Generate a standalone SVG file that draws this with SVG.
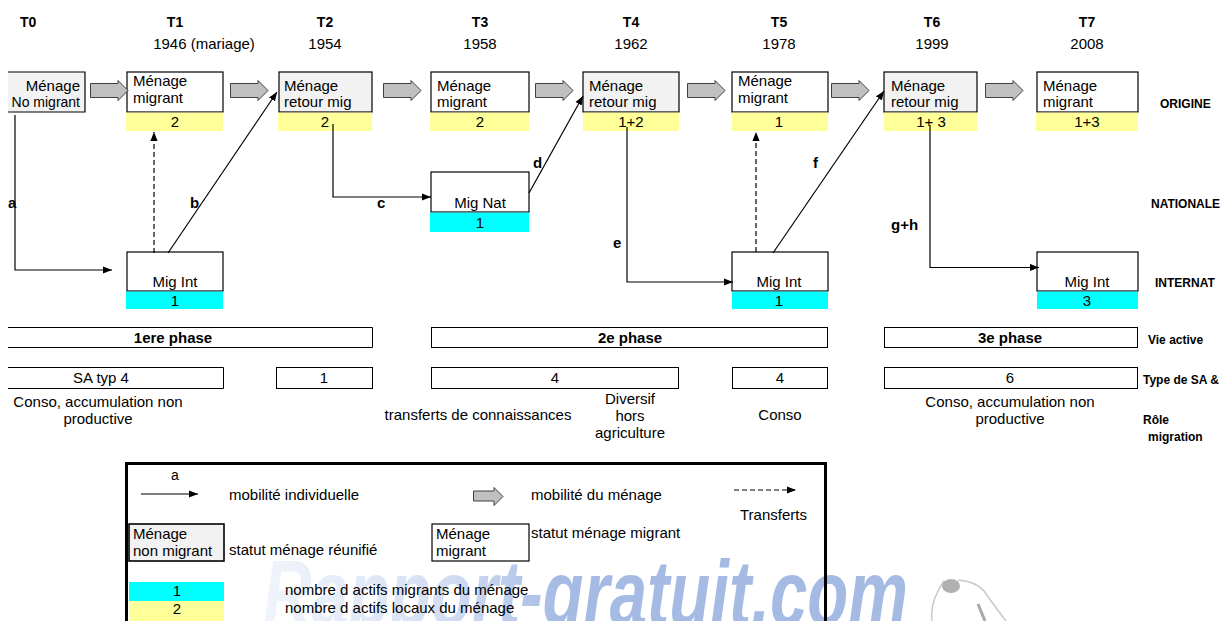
<svg xmlns="http://www.w3.org/2000/svg" width="1222" height="621" viewBox="0 0 1222 621">
  <style>
    .t{font-family:"Liberation Sans",Arial,sans-serif;font-size:15px;fill:#000}
    .b{font-weight:bold}
    .m{text-anchor:middle}
    .e{text-anchor:end}
    .s14{font-size:14px}
    .s12{font-size:12px}
    .box{fill:#fff;stroke:#000;stroke-width:1.2}
    .gbox{fill:#f2f2f2;stroke:#000;stroke-width:1.2}
    .yel{fill:#ffff99}
    .cy{fill:#00ffff}
    .ln{fill:none;stroke:#000;stroke-width:1.2}
    .dash{stroke-dasharray:5 3}
    .frame{fill:none;stroke:#000;stroke-width:1}
    .blk{fill:#c0c0c0;stroke:#404040;stroke-width:1}
  </style>
  <defs>
    <marker id="ah" viewBox="0 0 10 8" refX="10" refY="4" markerWidth="9" markerHeight="8" markerUnits="userSpaceOnUse" orient="auto">
      <path d="M0,0 L10,4 L0,8 Z" fill="#000"/>
    </marker>
    <symbol id="blkArrow" overflow="visible">
      <path class="blk" d="M0.5,3.5 H28 V0.5 L38,10.5 L28,20.5 V17.5 H0.5 Z"/>
    </symbol>
    <symbol id="blkArrowSmall" overflow="visible">
      <path class="blk" d="M0.5,4 H21 V0.5 L30,9.5 L21,18.5 V14 H0.5 Z"/>
    </symbol>
    <linearGradient id="wmFill" gradientUnits="userSpaceOnUse" x1="263" y1="0" x2="560" y2="0">
      <stop offset="0" stop-color="#c3d2f0" stop-opacity="0.25"/>
      <stop offset="0.6" stop-color="#9fb6e4" stop-opacity="0.45"/>
      <stop offset="1" stop-color="#7f9dd8" stop-opacity="0.7"/>
    </linearGradient>
  </defs>

  <rect width="1222" height="621" fill="#fff"/>

  <!-- watermark (behind the legend) -->
  <g id="watermark">
    <text x="263" y="625" textLength="645" lengthAdjust="spacingAndGlyphs" font-family="'Liberation Sans',Arial,sans-serif" font-size="92" font-style="italic" font-weight="bold" fill="url(#wmFill)">Rapport-gratuit.com</text>
    <path d="M932,621 C930,606 937,591 944,581" fill="none" stroke="#c8c8c8" stroke-width="1.5"/>
    <ellipse cx="951" cy="586" rx="9" ry="7" fill="#b0b0b0"/>
    <path d="M958,580 C970,581 979,585 984,591 C991,601 999,612 1006,621" fill="none" stroke="#c8c8c8" stroke-width="1.5"/>
    <path d="M978,604 L985,621" fill="none" stroke="#a8a8a8" stroke-width="3"/>
  </g>

  <!-- time axis -->
  <g id="timeline">
    <text class="t b s14" x="20" y="27">T0</text>
    <text class="t b s14 m" x="175" y="27">T1</text>
    <text class="t m" x="204" y="49">1946 (mariage)</text>
    <text class="t b s14 m" x="325" y="27">T2</text>
    <text class="t m" x="325" y="49">1954</text>
    <text class="t b s14 m" x="480" y="27">T3</text>
    <text class="t m" x="480" y="49">1958</text>
    <text class="t b s14 m" x="631" y="27">T4</text>
    <text class="t m" x="631" y="49">1962</text>
    <text class="t b s14 m" x="779" y="27">T5</text>
    <text class="t m" x="779" y="49">1978</text>
    <text class="t b s14 m" x="932" y="27">T6</text>
    <text class="t m" x="932" y="49">1999</text>
    <text class="t b s14 m" x="1087" y="27">T7</text>
    <text class="t m" x="1087" y="49">2008</text>
  </g>

  <!-- row labels -->
  <g id="row-labels">
    <text class="t b s12" x="1160" y="108">ORIGINE</text>
    <text class="t b s12" x="1151" y="208">NATIONALE</text>
    <text class="t b s12" x="1155" y="287">INTERNAT</text>
    <text class="t b s12" x="1148" y="344">Vie active</text>
    <text class="t b s12" x="1143" y="384">Type de SA &amp;</text>
    <text class="t b s12" x="1143" y="424">Rôle</text>
    <text class="t b s12" x="1148" y="441">migration</text>
  </g>

  <!-- household nodes at origin -->
  <g id="n-t0">
    <rect x="8" y="72" width="77" height="40" fill="#f2f2f2"/>
    <path class="ln" d="M8,72 H85 V112 H8"/>
    <text class="t e" x="80" y="91">Ménage</text>
    <text class="t e s14" x="80" y="107">No migrant</text>
  </g>
  <g id="n-t1">
    <rect class="box" x="127" y="72" width="96" height="40"/>
    <rect class="yel" x="126" y="112.6" width="97" height="18.4"/>
    <text class="t" x="133" y="86">Ménage</text>
    <text class="t" x="133" y="103">migrant</text>
    <text class="t m" x="175" y="127">2</text>
  </g>
  <g id="n-t2">
    <rect class="gbox" x="279" y="72" width="93" height="40"/>
    <rect class="yel" x="278" y="112.6" width="94" height="18.4"/>
    <text class="t" x="284" y="91">Ménage</text>
    <text class="t" x="284" y="107">retour mig</text>
    <text class="t m" x="325" y="127">2</text>
  </g>
  <g id="n-t3">
    <rect class="box" x="431" y="72" width="98" height="40"/>
    <rect class="yel" x="430" y="112.6" width="99" height="18.4"/>
    <text class="t" x="437" y="91">Ménage</text>
    <text class="t" x="437" y="107">migrant</text>
    <text class="t m" x="480" y="127">2</text>
  </g>
  <g id="n-t4">
    <rect class="gbox" x="583" y="72" width="96" height="40"/>
    <rect class="yel" x="583" y="112.6" width="96" height="18.4"/>
    <text class="t" x="589" y="91">Ménage</text>
    <text class="t" x="589" y="107">retour mig</text>
    <text class="t m" x="631" y="127">1+2</text>
  </g>
  <g id="n-t5">
    <rect class="box" x="732" y="72" width="96" height="40"/>
    <rect class="yel" x="732" y="112.6" width="96" height="18.4"/>
    <text class="t" x="738" y="86">Ménage</text>
    <text class="t" x="738" y="103">migrant</text>
    <text class="t m" x="779" y="127">1</text>
  </g>
  <g id="n-t6">
    <rect class="gbox" x="884" y="72" width="93" height="40"/>
    <rect class="yel" x="884" y="112.6" width="93" height="18.4"/>
    <text class="t" x="891" y="91">Ménage</text>
    <text class="t" x="891" y="107">retour mig</text>
    <text class="t m" x="931" y="127" xml:space="preserve">1+ 3</text>
  </g>
  <g id="n-t7">
    <rect class="box" x="1037" y="72" width="101" height="40"/>
    <rect class="yel" x="1036" y="112.6" width="102" height="18.4"/>
    <text class="t" x="1043" y="91">Ménage</text>
    <text class="t" x="1043" y="107">migrant</text>
    <text class="t m" x="1087" y="127">1+3</text>
  </g>

  <!-- migrant nodes -->
  <g id="n-migint-t1">
    <rect class="box" x="127" y="252" width="96" height="39"/>
    <rect class="cy" x="126" y="291.6" width="97" height="17.4"/>
    <text class="t m" x="175" y="287">Mig Int</text>
    <text class="t m" x="175" y="306">1</text>
  </g>
  <g id="n-mignat-t3">
    <rect class="box" x="431" y="172" width="98" height="40"/>
    <rect class="cy" x="430" y="212.6" width="99" height="19.4"/>
    <text class="t m" x="480" y="208">Mig Nat</text>
    <text class="t m" x="480" y="228">1</text>
  </g>
  <g id="n-migint-t5">
    <rect class="box" x="732" y="252" width="96" height="39"/>
    <rect class="cy" x="732" y="291.6" width="96" height="17.4"/>
    <text class="t m" x="779" y="287">Mig Int</text>
    <text class="t m" x="779" y="306">1</text>
  </g>
  <g id="n-migint-t7">
    <rect class="box" x="1037" y="252" width="101" height="39"/>
    <rect class="cy" x="1037" y="291.6" width="101" height="17.4"/>
    <text class="t m" x="1087" y="287">Mig Int</text>
    <text class="t m" x="1087" y="306">3</text>
  </g>

  <!-- connectors -->
  <g id="connectors">
    <!-- household mobility -->
    <use href="#blkArrow" x="90" y="80"/>
    <use href="#blkArrow" x="230" y="80"/>
    <use href="#blkArrow" x="383" y="80"/>
    <use href="#blkArrow" x="535" y="80"/>
    <use href="#blkArrow" x="687" y="80"/>
    <use href="#blkArrow" x="831" y="80"/>
    <use href="#blkArrow" x="985" y="80"/>

    <!-- individual mobility -->
    <path class="ln" d="M15,115 V270 H112" marker-end="url(#ah)"/>
    <path class="ln" d="M168,253 L277,92" marker-end="url(#ah)"/>
    <path class="ln" d="M333,124 V197 H431" marker-end="url(#ah)"/>
    <path class="ln" d="M529,193 L583,96" marker-end="url(#ah)"/>
    <path class="ln" d="M627,127 V282 H733" marker-end="url(#ah)"/>
    <path class="ln" d="M773,253 L884,91" marker-end="url(#ah)"/>
    <path class="ln" d="M930,125 V267.5 H1039" marker-end="url(#ah)"/>

    <!-- transfers -->
    <path class="ln dash" d="M154,253 V132" marker-end="url(#ah)"/>
    <path class="ln dash" d="M756,252 V132" marker-end="url(#ah)"/>

    <text class="t b" x="8" y="208">a</text>
    <text class="t b" x="190" y="208">b</text>
    <text class="t b" x="377" y="208">c</text>
    <text class="t b" x="533" y="168">d</text>
    <text class="t b" x="613" y="248">e</text>
    <text class="t b" x="813" y="168">f</text>
    <text class="t b" x="891" y="230">g+h</text>
  </g>

  <!-- phases of active life -->
  <g id="phases">
    <path class="frame" d="M8,327.5 H372.5 V347.5 H8"/>
    <text class="t b m" x="173" y="343">1ere phase</text>
    <rect class="frame" x="431.5" y="327.5" width="396" height="20"/>
    <text class="t b m" x="630" y="343">2e phase</text>
    <rect class="frame" x="884.5" y="327.5" width="253" height="20"/>
    <text class="t b m" x="1010" y="343">3e phase</text>
  </g>

  <!-- production system types -->
  <g id="sa-types">
    <path class="frame" d="M8,367.5 H223.5 V388.5 H8"/>
    <text class="t m" x="101" y="383">SA typ 4</text>
    <rect class="frame" x="276.5" y="367.5" width="96" height="21"/>
    <text class="t m" x="324" y="383">1</text>
    <rect class="frame" x="431.5" y="367.5" width="247" height="21"/>
    <text class="t m" x="555" y="383">4</text>
    <rect class="frame" x="732.5" y="367.5" width="95" height="21"/>
    <text class="t m" x="780" y="383">4</text>
    <rect class="frame" x="884.5" y="367.5" width="253" height="21"/>
    <text class="t m" x="1010" y="383">6</text>
  </g>

  <!-- role of migration -->
  <g id="roles">
    <text class="t m" x="98" y="407">Conso, accumulation non</text>
    <text class="t m" x="98" y="424">productive</text>
    <text class="t m" x="478" y="420">transferts de connaissances</text>
    <text class="t m" x="630" y="404">Diversif</text>
    <text class="t m" x="630" y="421">hors</text>
    <text class="t m" x="630" y="438">agriculture</text>
    <text class="t m" x="780" y="420">Conso</text>
    <text class="t m" x="1010" y="407">Conso, accumulation non</text>
    <text class="t m" x="1010" y="424">productive</text>
  </g>

  <!-- legend -->
  <g id="legend">
    <path d="M126.5,625 V463.5 H825.5 V625" fill="none" stroke="#000" stroke-width="3"/>
    <text class="t s14 m" x="175" y="480">a</text>
    <path class="ln" d="M141,494 H198" marker-end="url(#ah)"/>
    <text class="t" x="229" y="500">mobilité individuelle</text>
    <use href="#blkArrowSmall" x="473" y="487"/>
    <text class="t" x="531" y="500">mobilité du ménage</text>
    <path class="ln dash" d="M734,490 H796" marker-end="url(#ah)"/>
    <text class="t" x="740" y="520">Transferts</text>

    <rect x="129" y="524" width="95" height="37" fill="#f2f2f2" stroke="#000" stroke-width="1.6"/>
    <text class="t" x="133" y="539">Ménage</text>
    <text class="t" x="133" y="556">non migrant</text>
    <text class="t" x="229" y="555">statut ménage réunifié</text>

    <rect class="box" x="432" y="524" width="97" height="37"/>
    <text class="t" x="436" y="539">Ménage</text>
    <text class="t" x="436" y="556">migrant</text>
    <text class="t" x="531" y="538">statut ménage migrant</text>

    <rect class="cy" x="129" y="582" width="95" height="19"/>
    <text class="t m" x="177" y="596">1</text>
    <rect class="yel" x="129" y="601" width="95" height="20"/>
    <text class="t m" x="177" y="614">2</text>
    <text class="t" x="285" y="595">nombre d actifs migrants du ménage</text>
    <text class="t" x="285" y="613">nombre d actifs locaux du ménage</text>
  </g>
</svg>
